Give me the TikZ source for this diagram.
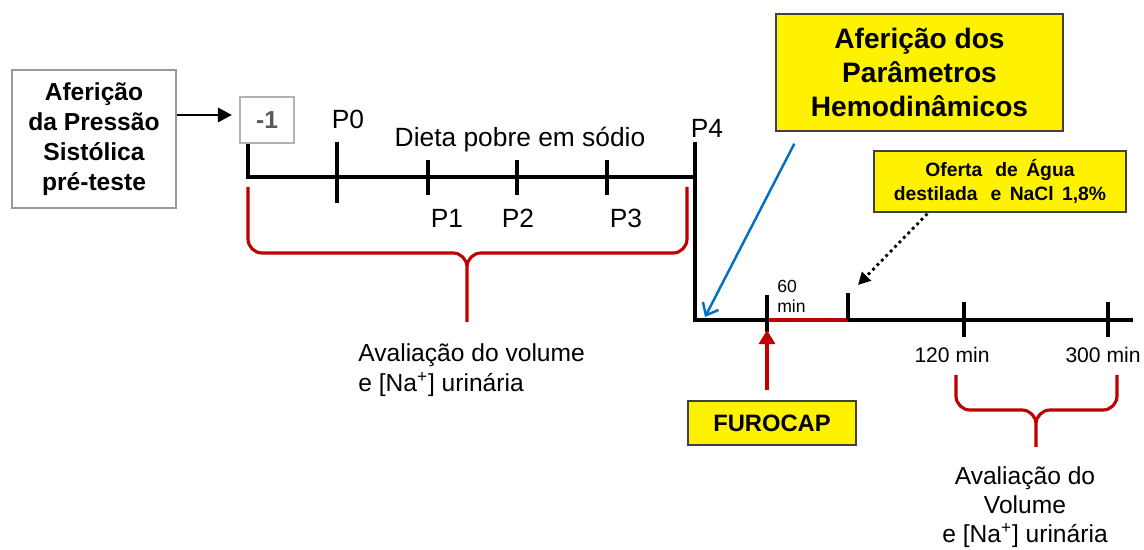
\documentclass[tikz,border=0pt]{standalone}
\usepackage{fontspec}
\setmainfont{Liberation Sans}
\usetikzlibrary{arrows.meta}

\definecolor{bracered}{RGB}{192,0,0}
\definecolor{hemoblue}{RGB}{0,112,192}

\begin{document}
\begin{tikzpicture}[x=0.02cm, y=-0.02cm,
  timeline/.style={line width=2.3pt},
  redbrace/.style={bracered, line width=1.8pt, rounded corners=8pt},
  notebox/.style={draw=black!75, fill=yellow, line width=0.8pt, align=center, inner sep=0pt},
  ticklabel/.style={inner sep=0pt, anchor=base, font=\fontsize{15}{18}\selectfont}]
  \useasboundingbox (0,0) rectangle (1144,550);

  % Pre-test measurement
  \node[draw=gray!80, line width=0.8pt, minimum width=3.28cm, minimum height=2.76cm,
    align=center, font=\bfseries\fontsize{14}{17}\selectfont] (lbox) at (94,139)
    {Aferição\\da Pressão\\Sistólica\\pré-teste};
  \node[draw=gray!60, line width=0.8pt, minimum width=1.08cm, minimum height=0.92cm,
    text=black!65, font=\bfseries\fontsize{14}{17}\selectfont] (mone) at (267,120) {-1};
  \coordinate (mark) at (232,115);
  \draw[line width=1.7pt, -{Triangle[length=8pt,width=8pt]}] (lbox.east |- mark) -- (mark);

  % Diet phase
  \coordinate (t0) at (248,177);
  \coordinate (t4) at (695,142);
  \coordinate (c0) at (695,320);
  \coordinate (tend) at (1133,320);
  \draw[timeline] (mone.south -| t0) -- (t0) -- (t4 |- t0);
  \draw[timeline] (t4) -- (c0) -- (tend);
  \draw[timeline] (337,142) -- (337,203);
  \foreach \x in {428,517,607} \draw[timeline] (\x,160) -- (\x,195);
  \node[ticklabel] (p0) at (348,129) {P0};
  \node[ticklabel] (diet) at (520,147) {Dieta pobre em sódio};
  \node[ticklabel] (p1) at (447,228) {P1};
  \node[ticklabel] (p2) at (518,228) {P2};
  \node[ticklabel] (p3) at (626,228) {P3};
  \node[ticklabel] (p4) at (707,138) {P4};

  \draw[redbrace] (248,187) -- (248,253) -- (467,253) -- (467,322)
    (687,187) -- (687,253) -- (467,253) -- (467,322);
  \node[anchor=west, align=left, inner sep=0pt, font=\fontsize{14}{17}\selectfont] (evaldiet)
    at (358,370) {Avaliação do volume\\e [Na\textsuperscript{+}] urinária};

  % Treatment phase
  \coordinate (c60) at (767,320);
  \coordinate (c60end) at (848,320);
  \draw[bracered, line width=2.3pt] (c60) -- (c60end);
  \draw[timeline] (767,295) -- (767,332);
  \draw[timeline] (848,293) -- (c60end);
  \foreach \x in {964,1108} \draw[timeline] (\x,302) -- (\x,337);
  \node[anchor=west, align=left, inner sep=0pt, font=\fontsize{10}{11.5}\selectfont] (sixty)
    at (777,296) {60\\min};
  \node[ticklabel, font=\fontsize{12}{14}\selectfont] (t120) at (952,363) {120 min};
  \node[ticklabel, font=\fontsize{12}{14}\selectfont] (t300) at (1103,363) {300 min};

  \draw[redbrace] (956,375) -- (956,410) -- (1036,410) -- (1036,447)
    (1117,375) -- (1117,410) -- (1036,410) -- (1036,447);
  \node[align=center, inner sep=0pt, font=\fontsize{14}{16.5}\selectfont] (evalurine)
    at (1025,507) {Avaliação do\\Volume\\e [Na\textsuperscript{+}] urinária};

  % Notes
  \node[notebox, minimum width=5.74cm, minimum height=2.34cm,
    font=\bfseries\fontsize{16}{19.3}\selectfont] (hemo) at (919.5,72.5)
    {Aferição dos\\Parâmetros\\Hemodinâmicos};
  \node[notebox, minimum width=5.04cm, minimum height=1.22cm,
    font=\bfseries\fontsize{11}{14}\selectfont] (oferta) at (1000,181.5)
    {Oferta\hspace{0.4em} de\hspace{0.15em} Água\\destilada\hspace{0.4em} e\hspace{0.15em} NaCl\hspace{0.15em} 1,8\%};
  \node[notebox, minimum width=3.36cm, minimum height=0.88cm,
    font=\bfseries\fontsize{13.5}{16}\selectfont] (furo) at (772,423) {FUROCAP};

  \draw[hemoblue, line width=1.4pt, -{Straight Barb[length=6pt,width=10pt]}]
    ([shift={(19,12)}]hemo.south west) -- ([shift={(10,-3)}]c0);
  \draw[line width=1.6pt, dotted, -{Triangle[length=7pt,width=7pt]}]
    ([shift={(54,1)}]oferta.south west) -- ([shift={(10,-35)}]c60end);
  \draw[bracered, line width=2.3pt, -{Triangle[length=8pt,width=9pt]},
    shorten <=0.2cm, shorten >=0.2cm] (furo.north -| c60) -- (c60);
\end{tikzpicture}
\end{document}
